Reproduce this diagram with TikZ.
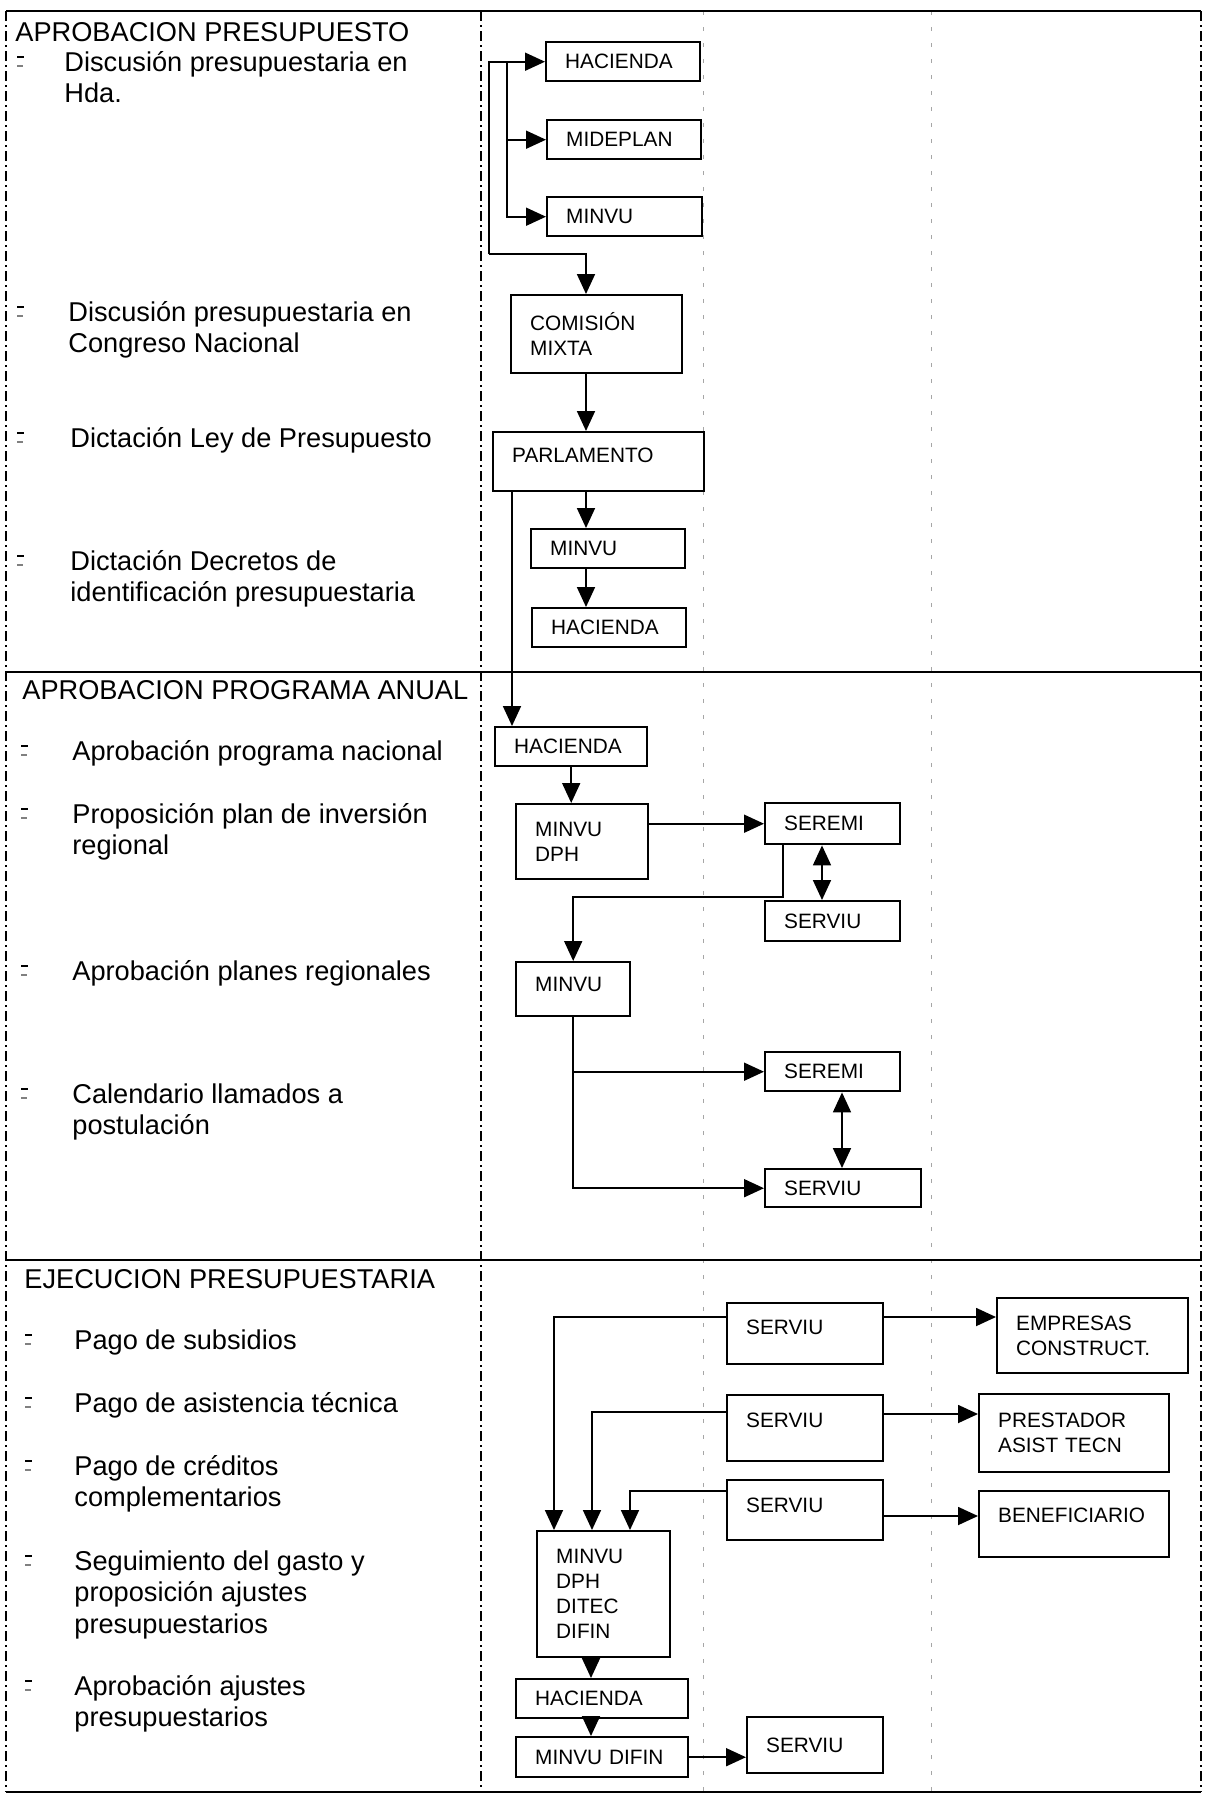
\documentclass[tikz,border=0pt]{standalone}
\usepackage{fontspec}
\setmainfont{Liberation Sans}
\usetikzlibrary{arrows.meta}

\newcommand{\itemfont}{\fontsize{13.6}{15.75}\selectfont}
\newcommand{\boxfont}{\fontsize{10.4}{12.5}\selectfont}
\newcommand{\bulletmark}[2]{%
  \draw[line width=0.8pt] (#1,#2-4) -- ++(7,0);
  \draw[line width=0.6pt,gray] (#1,#2+5) -- ++(6,0);}

\begin{document}
\begin{tikzpicture}[x=0.5pt,y=-0.5pt,
  box/.style={draw,line width=1.2pt,fill=white,anchor=north west,align=left,
    inner xsep=9.5pt,inner ysep=0pt,font=\boxfont},
  lift/.style={text depth=#1},
  item/.style={anchor=base west,align=left,inner sep=0pt,font=\itemfont},
  flow/.style={line width=0.9pt,-{Triangle[length=10pt,width=9pt]}},
  both/.style={line width=0.9pt,{Triangle[length=10pt,width=9pt]}-{Triangle[length=10pt,width=9pt]}},
  rule/.style={line width=1.3pt},
  col/.style={line width=0.6pt,dash pattern=on 5pt off 2pt on 1pt off 2pt},
  faint/.style={line width=0.5pt,gray!70,dash pattern=on 2pt off 6pt}]
\useasboundingbox (0,0) rectangle (1206,1795);

% frame and columns
\draw[faint] (703,11) -- (703,1792);
\draw[faint] (931,11) -- (931,1792);
\draw[col] (481,11) -- (481,1792);
\draw[col] (6,11) -- (6,1792);
\draw[col] (1201,11) -- (1201,1792);
\draw[rule] (6,11) -- (1201,11);
\draw[rule] (6,672) -- (1201,672);
\draw[rule] (6,1260) -- (1201,1260);
\draw[rule] (6,1792) -- (1201,1792);

% APROBACION PRESUPUESTO
\node[item] (t1) at (15,41) {APROBACION PRESUPUESTO};
\node[item] (i1) at (64,102.5) {Discusión presupuestaria en\\Hda.};
\node[item] (i2) at (68,352.5) {Discusión presupuestaria en\\Congreso Nacional};
\node[item] (i3) at (70,447) {Dictación Ley de Presupuesto};
\node[item] (i4) at (70,601.5) {Dictación Decretos de\\identificación presupuestaria};
\bulletmark{17}{61}
\bulletmark{17}{311}
\bulletmark{17}{437}
\bulletmark{17}{560}

\node[box,text width=58pt,minimum height=19.5pt] (hac1) at (545,41) {HACIENDA};
\node[box,text width=58pt,minimum height=19.5pt] (mid1) at (546,119) {MIDEPLAN};
\node[box,text width=58.5pt,minimum height=19.5pt] (min1) at (546,196) {MINVU};
\node[box,text width=66.5pt,minimum height=39pt] (com) at (510,294) {COMISIÓN\\MIXTA};
\node[box,lift=6pt,text width=86.5pt,minimum height=29.5pt] (par) at (492,431) {PARLAMENTO};
\node[box,text width=58pt,minimum height=19.5pt] (min2) at (530,528) {MINVU};
\node[box,text width=58pt,minimum height=19.5pt] (hac2) at (531,607) {HACIENDA};

\coordinate (k1) at (489,254);
\coordinate (k2) at (507,0);
\coordinate (k3) at (586,0);
\coordinate (k4) at (512,0);
\draw[flow] (k1) |- (hac1.west);
\draw[flow] (k1) -| (com.north -| k3);
\draw[flow] (hac1.west -| k2) |- (mid1.west);
\draw[flow] (hac1.west -| k2) |- (min1.west);
\draw[flow] (com.south -| k3) -- (par.north -| k3);
\draw[flow] (par.south -| k3) -- (min2.north -| k3);
\draw[flow] (min2.south -| k3) -- (hac2.north -| k3);

% APROBACION PROGRAMA ANUAL
\node[item] (t2) at (22,699) {APROBACION PROGRAMA ANUAL};
\node[item] (i5) at (72,760) {Aprobación programa nacional};
\node[item] (i6) at (72,854.5) {Proposición plan de inversión\\regional};
\node[item] (i7) at (72,980) {Aprobación planes regionales};
\node[item] (i8) at (72,1134.5) {Calendario llamados a\\postulación};
\bulletmark{21}{750}
\bulletmark{21}{813}
\bulletmark{21}{970}
\bulletmark{21}{1093}

\node[box,text width=57pt,minimum height=19.5pt] (hac3) at (494,726) {HACIENDA};
\node[box,text width=47pt,minimum height=37.5pt] (mdp) at (515,803) {MINVU\\DPH};
\node[box,text width=48.5pt,minimum height=20.5pt] (sem1) at (764,802) {SEREMI};
\node[box,text width=48.5pt,minimum height=20pt] (svu1) at (764,900) {SERVIU};
\node[box,lift=4.5pt,text width=38pt,minimum height=27pt] (min3) at (515,961) {MINVU};
\node[box,text width=48.5pt,minimum height=19.5pt] (sem2) at (764,1051) {SEREMI};
\node[box,text width=59pt,minimum height=19pt] (svu2) at (764,1168) {SERVIU};

\draw[flow] (par.south -| k4) -- (hac3.north -| k4);
\draw[flow] (hac3.south) -- (hac3.south |- mdp.north);
\draw[flow] (mdp.east |- sem1.west) -- (sem1.west);
\coordinate (k5) at (822,0);
\draw[both] (sem1.south -| k5) -- (svu1.north -| k5);
\coordinate (k6) at (783,897);
\draw[flow] (sem1.south -| k6) -- (k6) -| (min3.north);
\draw[flow] (min3.south) |- (sem2.west);
\draw[flow] (min3.south) |- (svu2.west);
\coordinate (k7) at (842,0);
\draw[both] (sem2.south -| k7) -- (svu2.north -| k7);

% EJECUCION PRESUPUESTARIA
\node[item] (t3) at (24,1288) {EJECUCION PRESUPUESTARIA};
\node[item] (i9) at (74,1349) {Pago de subsidios};
\node[item] (i10) at (74,1412) {Pago de asistencia técnica};
\node[item] (i11) at (74,1506.5) {Pago de créditos\\complementarios};
\node[item] (i12) at (74,1633) {Seguimiento del gasto y\\proposición ajustes\\presupuestarios};
\node[item] (i13) at (74,1726.5) {Aprobación ajustes\\presupuestarios};
\bulletmark{25}{1339}
\bulletmark{25}{1402}
\bulletmark{25}{1465}
\bulletmark{25}{1560}
\bulletmark{25}{1685}

\node[box,lift=6pt,text width=59pt,minimum height=30.5pt] (sv1) at (726,1302) {SERVIU};
\node[box,text width=76.5pt,minimum height=37.5pt] (emp) at (996,1297) {EMPRESAS\\CONSTRUCT.};
\node[box,lift=8pt,text width=59pt,minimum height=33pt] (sv2) at (726,1394) {SERVIU};
\node[box,text width=76pt,minimum height=39pt] (pre) at (978,1393) {PRESTADOR\\ASIST TECN};
\node[box,lift=4.5pt,text width=59pt,minimum height=30pt] (sv3) at (726,1479) {SERVIU};
\node[box,lift=9pt,text width=76pt,minimum height=33pt] (ben) at (978,1490) {BENEFICIARIO};
\node[box,text width=47.5pt,minimum height=63pt] (mdd) at (536,1530) {MINVU\\DPH\\DITEC\\DIFIN};
\node[box,text width=67pt,minimum height=19.5pt] (hac4) at (515,1678) {HACIENDA};
\node[box,text width=67pt,minimum height=20pt] (mdf) at (515,1736) {MINVU DIFIN};
\node[box,text width=49pt,minimum height=28pt] (sv4) at (746,1716) {SERVIU};

\coordinate (k8) at (0,1317);
\coordinate (k9) at (0,1414);
\coordinate (k10) at (0,1516);
\draw[flow] (sv1.east |- k8) -- (emp.west |- k8);
\draw[flow] (sv2.east |- k9) -- (pre.west |- k9);
\draw[flow] (sv3.east |- k10) -- (ben.west |- k10);
\coordinate (m1) at (554,1317);
\coordinate (m2) at (592,1412);
\coordinate (m3) at (630,1491);
\draw[flow] (sv1.west |- m1) -- (m1) -- (mdd.north -| m1);
\draw[flow] (sv2.west |- m2) -- (m2) -- (mdd.north -| m2);
\draw[flow] (sv3.west |- m3) -- (m3) -- (mdd.north -| m3);
\coordinate (k11) at (591,0);
\draw[flow] (mdd.south -| k11) -- (hac4.north -| k11);
\draw[flow] (hac4.south -| k11) -- (mdf.north -| k11);
\draw[flow] (mdf.east) -- (sv4.west |- mdf.east);
\end{tikzpicture}
\end{document}
